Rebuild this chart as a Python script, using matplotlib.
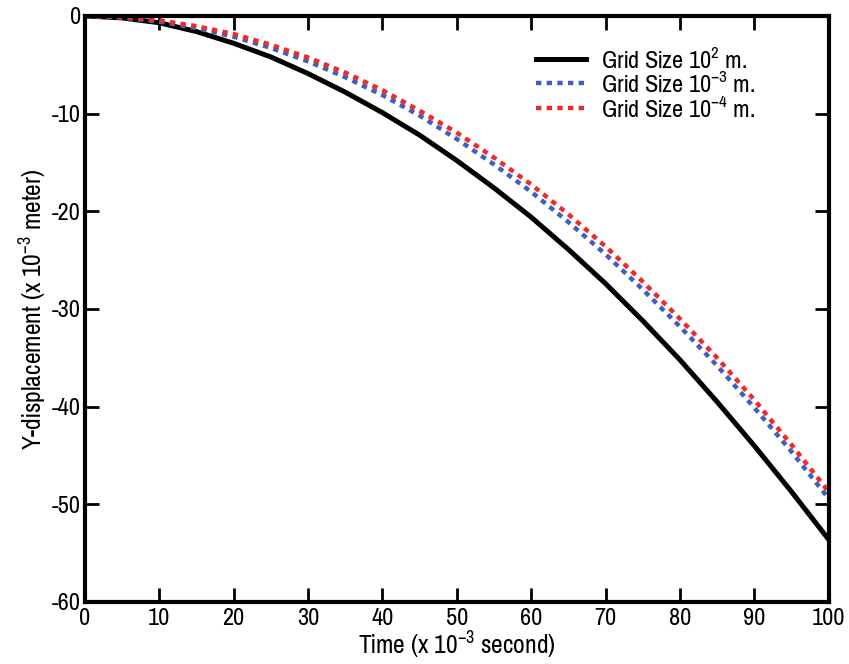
import matplotlib
matplotlib.use("Agg")
import matplotlib.pyplot as plt

FONT = 'Pragati Narrow'
plt.rcParams['font.family'] = [FONT, 'Roboto Condensed', 'DejaVu Sans']
plt.rcParams['mathtext.fontset'] = 'custom'
plt.rcParams['mathtext.rm'] = FONT
plt.rcParams['mathtext.default'] = 'rm'
plt.rcParams['axes.unicode_minus'] = False

# time in 1e-3 s, displacement in 1e-3 m
time = [0, 5, 10, 15, 20, 25, 30, 35, 40, 45, 50,
        55, 60, 65, 70, 75, 80, 85, 90, 95, 100]
disp_1e2 = [0, -0.2, -0.7, -1.6, -2.8, -4.2, -5.9, -7.8, -9.9, -12.2, -14.8,
            -17.6, -20.6, -23.9, -27.4, -31.2, -35.2, -39.5, -44.0, -48.7, -53.6]
disp_1e3 = [0, -0.17, -0.58, -1.24, -2.13, -3.27, -4.65, -6.27, -8.1, -10.2, -12.6,
            -15.2, -18.0, -21.1, -24.4, -28.0, -31.8, -35.8, -40.1, -44.6, -49.4]
disp_1e4 = [0, -0.12, -0.45, -1.05, -1.85, -2.95, -4.25, -5.8, -7.6, -9.7, -11.95,
            -14.5, -17.25, -20.3, -23.6, -27.2, -31.0, -35.0, -39.3, -43.9, -48.7]
labels = ['Grid Size 10$^{2}$ m.', 'Grid Size 10$^{-3}$ m.', 'Grid Size 10$^{-4}$ m.']

fig = plt.figure(figsize=(8.49, 6.64), dpi=100)
ax = fig.add_axes([0.100, 0.0934, 0.876, 0.8826])

ax.plot(time, disp_1e2, color='black', lw=3.6, label=labels[0])
ax.plot(time, disp_1e3, color='#3f5fbf', lw=3.2, dashes=(1.2, 1.2), label=labels[1])
ax.plot(time, disp_1e4, color='#ee2a2a', lw=3.2, dashes=(1.2, 1.2), label=labels[2])

ax.set_xlim(0, 100)
ax.set_ylim(-60, 0)
ax.set_xticks(range(0, 101, 10))
ax.set_yticks(range(-60, 1, 10))
ax.tick_params(direction='in', length=10, width=2, top=True, right=True,
               labelsize=19)
ax.tick_params(axis='x', pad=4)
ax.tick_params(axis='y', pad=3)
for s in ax.spines.values():
    s.set_linewidth(3)

ax.set_xlabel('Time (x 10$^{-3}$ second)', fontsize=20, labelpad=1)
ax.set_ylabel('Y-displacement (x 10$^{-3}$ meter)', fontsize=20, labelpad=2)

ax.legend(loc='upper right', bbox_to_anchor=(0.915, 0.965), borderaxespad=0,
          frameon=False, fontsize=19, handlelength=1.9, handletextpad=0.55,
          labelspacing=-0.02)

fig.savefig('out.png', dpi=100)
